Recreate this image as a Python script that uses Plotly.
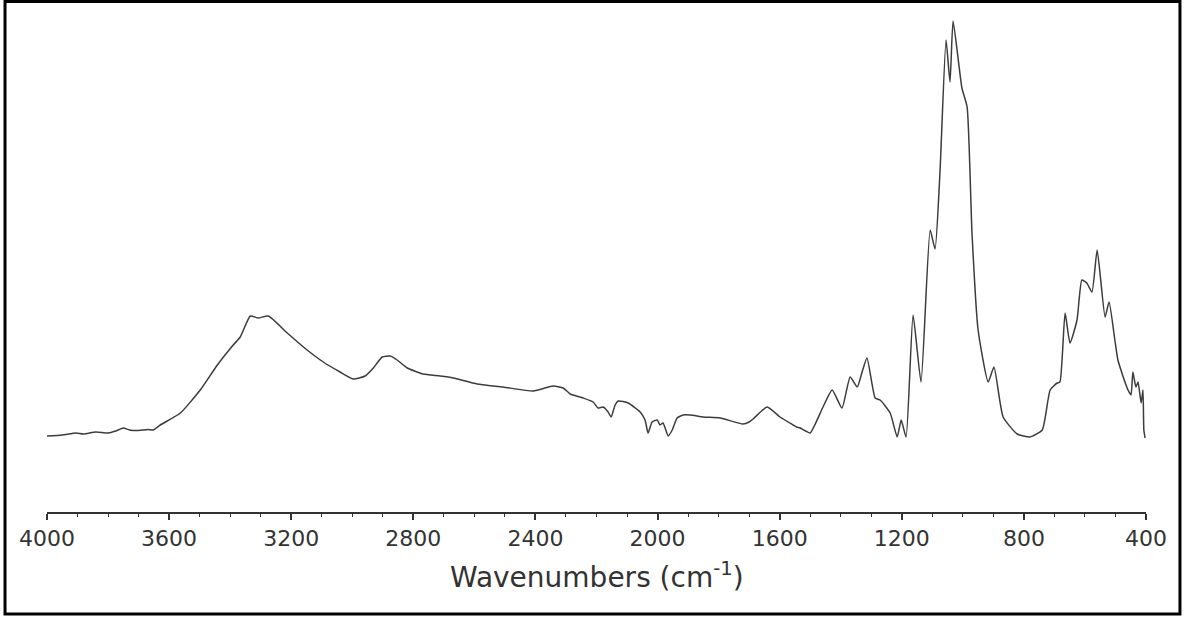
import plotly.graph_objects as go

# FTIR spectrum: wavenumber (cm-1) and absorbance (a.u.)
wavenumber = [
    4000, 3950, 3905, 3881, 3840, 3800, 3775, 3750, 3730, 3700, 3670, 3652, 3629,
    3563, 3498, 3442, 3390, 3367, 3334, 3308, 3275, 3213, 3148, 3095, 3040,
    2997, 2958, 2931, 2902, 2876, 2853, 2820, 2768, 2712, 2669, 2591, 2506,
    2407, 2342, 2309, 2286, 2244, 2211, 2195, 2178, 2162, 2152, 2139, 2129,
    2096, 2073, 2057, 2041, 2031, 2018, 2001, 1992, 1982, 1965, 1952, 1936,
    1916, 1893, 1850, 1795, 1720, 1700, 1687, 1641, 1599, 1556, 1545, 1533,
    1515, 1500, 1458, 1428, 1396, 1369, 1346, 1330, 1314, 1287, 1271, 1238,
    1215, 1202, 1186, 1163, 1137, 1107, 1091, 1075, 1055, 1042, 1032, 1003,
    986, 970, 950, 917, 898, 868, 822, 780, 740, 714, 691, 682, 665, 649,
    626, 610, 594, 577, 560, 534, 521, 502, 492, 479, 469, 459, 449, 443,
    433, 426, 416, 410, 407, 403,
]
absorbance = [
    0.152, 0.154, 0.158, 0.156, 0.160, 0.158, 0.162, 0.168, 0.164, 0.163, 0.165, 0.164, 0.174,
    0.198, 0.244, 0.294, 0.334, 0.350, 0.392, 0.388, 0.392, 0.358, 0.324, 0.300, 0.280,
    0.266, 0.272, 0.288, 0.310, 0.312, 0.304, 0.288, 0.276, 0.272, 0.268, 0.256, 0.250,
    0.242, 0.252, 0.248, 0.236, 0.228, 0.220, 0.208, 0.210, 0.200, 0.190, 0.214, 0.222,
    0.218, 0.208, 0.200, 0.184, 0.158, 0.180, 0.184, 0.174, 0.178, 0.152, 0.164, 0.188,
    0.194, 0.194, 0.190, 0.188, 0.176, 0.180, 0.186, 0.210, 0.190, 0.174, 0.170, 0.168,
    0.162, 0.158, 0.210, 0.244, 0.208, 0.270, 0.250, 0.280, 0.308, 0.228, 0.224, 0.198,
    0.150, 0.184, 0.150, 0.394, 0.260, 0.564, 0.526, 0.678, 0.944, 0.860, 0.982, 0.848,
    0.810, 0.558, 0.364, 0.260, 0.290, 0.190, 0.156, 0.150, 0.164, 0.244, 0.258, 0.260, 0.398, 0.338,
    0.384, 0.464, 0.458, 0.440, 0.524, 0.390, 0.420, 0.344, 0.304, 0.278, 0.260, 0.244, 0.234, 0.280,
    0.250, 0.260, 0.218, 0.244, 0.164, 0.148,
]

x_ticks = [4000, 3600, 3200, 2800, 2400, 2000, 1600, 1200, 800, 400]
x_title = "Wavenumbers (cm<sup>-1</sup>)"

FONT = "DejaVu Sans"
INK = "#333333"

fig = go.Figure()
fig.add_trace(go.Scatter(
    x=wavenumber, y=absorbance, mode="lines",
    line=dict(color="#3c3c3c", width=1.5, shape="spline", smoothing=0.5),
    hoverinfo="x+y", showlegend=False,
))

fig.update_layout(
    width=1187, height=619,
    margin=dict(l=47, r=41, t=12, b=107),
    paper_bgcolor="white", plot_bgcolor="white",
    font=dict(family=FONT, color=INK),
    xaxis=dict(
        range=[4000, 400], tickvals=x_ticks,
        ticks="outside", ticklen=6, tickwidth=1.6, tickcolor=INK,
        minor=dict(dtick=100, ticks="outside", ticklen=3, tickwidth=1.4, tickcolor=INK),
        showline=True, linecolor=INK, linewidth=2,
        showgrid=False, zeroline=False,
        tickfont=dict(family=FONT, size=22, color=INK),
    ),
    yaxis=dict(range=[0, 1], visible=False, showgrid=False, zeroline=False),
    annotations=[dict(
        text=x_title, xref="paper", yref="paper", x=0.5, y=-0.126,
        xanchor="center", yanchor="middle", showarrow=False,
        font=dict(family=FONT, size=28, color=INK),
    )],
    shapes=[dict(
        type="rect", xref="paper", yref="paper",
        x0=-0.0382, x1=1.0309, y0=-0.204, y1=1.021,
        line=dict(color="black", width=3), fillcolor="rgba(0,0,0,0)",
    )],
)

fig.write_html("out.html")
